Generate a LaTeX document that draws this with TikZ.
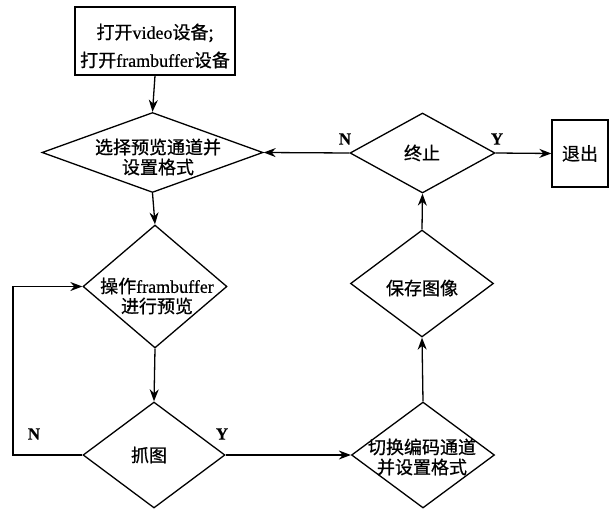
\documentclass[tikz,border=0pt]{standalone}
\usepackage{fontspec}
\setmainfont[FakeBold=0.6]{Liberation Serif}
\newfontfamily\cjk[FakeBold=0.8]{Noto Sans CJK SC}
\usetikzlibrary{shapes.geometric,arrows.meta}
\begin{document}
\begin{tikzpicture}[x=1bp,y=-1bp,
  every node/.style={font=\fontsize{18bp}{20bp}\selectfont},
  box/.style={draw,line width=1.3bp,rectangle,inner sep=0pt},
  dia/.style={draw,line width=1.3bp,diamond,inner sep=0pt},
  txt/.style={align=center,inner sep=0pt},
  lab/.style={inner sep=0pt,font=\fontsize{17bp}{20bp}\selectfont\bfseries},
  conn/.style={line width=1.3bp,-{Stealth[length=12bp,width=9bp]}}]
\useasboundingbox (0,0) rectangle (614,509);

\node[box,minimum width=160bp,minimum height=68bp] (b1) at (155,41) {};
\node[txt,font=\fontsize{18bp}{28bp}\selectfont] (t1) at (155,46) {{\cjk 打开}video{\cjk 设备;}\\{\cjk 打开}frambuffer{\cjk 设备}};

\node[dia,minimum width=221bp,minimum height=80bp] (d2) at (152.5,152.5) {};
\node[txt] (t2) at (158,157) {\cjk 选择预览通道并\\\cjk 设置格式};

\node[dia,minimum width=144bp,minimum height=123bp] (d3) at (155,286.5) {};
\node[txt] (t3) at (157,296) {{\cjk 操作}frambuffer\\\cjk 进行预览};

\node[dia,minimum width=142bp,minimum height=106bp] (d4) at (154,455) {};
\node[txt] (t4) at (149,455) {\cjk 抓图};

\node[dia,minimum width=143bp,minimum height=106bp] (d5) at (423,455) {};
\node[txt] (t5) at (422,457) {\cjk 切换编码通道\\\cjk 并设置格式};

\node[dia,minimum width=143bp,minimum height=107bp] (d6) at (422,283.5) {};
\node[txt] (t6) at (422,288) {\cjk 保存图像};

\node[dia,minimum width=145bp,minimum height=80bp] (d7) at (422.5,153) {};
\node[txt] (t7) at (422,153) {\cjk 终止};

\node[box,minimum width=56bp,minimum height=67bp] (ex) at (580,153.5) {\cjk 退出};

\coordinate (c1) at (13,455);
\coordinate (c2) at (13,286.5);

\draw[conn] (b1.south) -- (d2.north);
\draw[conn] (d2.south) -- (d3.north);
\draw[conn] (d3.south) -- (d4.north);
\draw[conn] (d4.west) -- (c1) -- (c2) -- (d3.west);
\draw[conn] (d4.east) -- (d5.west);
\draw[conn] (d5.north) -- (d6.south);
\draw[conn] (d6.north) -- (d7.south);
\draw[conn] (d7.west) -- (d2.east);
\draw[conn] (d7.east) -- (ex.west);

\node[lab] (n1) at (34,434) {N};
\node[lab] (y1) at (222,434) {Y};
\node[lab] (n2) at (345,139) {N};
\node[lab] (y2) at (497,139) {Y};
\end{tikzpicture}
\end{document}
